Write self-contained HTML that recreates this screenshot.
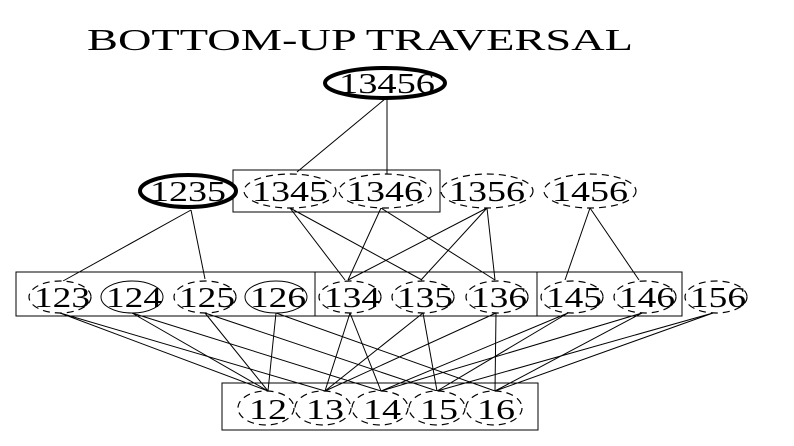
<!DOCTYPE html>
<html><head><style>body{margin:0;background:#fff}</style></head><body>
<svg width="794" height="441" xmlns="http://www.w3.org/2000/svg" font-family="Liberation Serif, serif">
<text x="87" y="50" font-size="30.5" textLength="546" lengthAdjust="spacingAndGlyphs">BOTTOM-UP TRAVERSAL</text>
<g stroke="#000" stroke-width="1" fill="none">
<rect x="233" y="170" width="207" height="42"/>
<rect x="16" y="272" width="299" height="44"/>
<rect x="315" y="272" width="222" height="44"/>
<rect x="537" y="272" width="145" height="44"/>
<rect x="222" y="383" width="316" height="47"/>
<line x1="385" y1="99" x2="297" y2="172"/>
<line x1="387" y1="99" x2="387" y2="174"/>
<line x1="191" y1="210" x2="63" y2="281"/>
<line x1="191" y1="210" x2="205" y2="279"/>
<line x1="290" y1="208" x2="345" y2="280"/>
<line x1="290" y1="208" x2="422" y2="280"/>
<line x1="381" y1="208" x2="348" y2="280"/>
<line x1="381" y1="208" x2="495" y2="280"/>
<line x1="487" y1="208" x2="348" y2="280"/>
<line x1="487" y1="208" x2="421" y2="280"/>
<line x1="487" y1="208" x2="495" y2="280"/>
<line x1="590" y1="208" x2="565" y2="280"/>
<line x1="590" y1="208" x2="639" y2="280"/>
<line x1="60" y1="313" x2="268" y2="391"/><line x1="60" y1="313" x2="325" y2="391"/>
<line x1="132" y1="313" x2="268" y2="391"/><line x1="132" y1="313" x2="381" y2="391"/>
<line x1="205" y1="313" x2="268" y2="391"/><line x1="205" y1="313" x2="437" y2="391"/>
<line x1="276" y1="313" x2="268" y2="391"/><line x1="276" y1="313" x2="495" y2="391"/>
<line x1="350" y1="313" x2="325" y2="391"/><line x1="350" y1="313" x2="381" y2="391"/>
<line x1="423" y1="313" x2="325" y2="391"/><line x1="423" y1="313" x2="437" y2="391"/>
<line x1="496" y1="313" x2="325" y2="391"/><line x1="496" y1="313" x2="495" y2="391"/>
<line x1="568" y1="313" x2="381" y2="391"/><line x1="568" y1="313" x2="437" y2="391"/>
<line x1="642" y1="313" x2="381" y2="391"/><line x1="642" y1="313" x2="495" y2="391"/>
<line x1="713" y1="313" x2="437" y2="391"/><line x1="713" y1="313" x2="495" y2="391"/>
</g>
<g fill="#fff" stroke="#000">
<ellipse cx="385" cy="83" rx="60" ry="15" stroke-width="4"/>
<ellipse cx="188" cy="191" rx="48" ry="16" stroke-width="4"/>
<g stroke-dasharray="7,5" stroke-width="1.2">
<ellipse cx="290" cy="191" rx="46" ry="17"/>
<ellipse cx="385" cy="191" rx="46" ry="17"/>
<ellipse cx="487" cy="191" rx="46" ry="17"/>
<ellipse cx="590" cy="191" rx="46" ry="17"/>
<ellipse cx="60" cy="297" rx="31" ry="16"/>
<ellipse cx="205" cy="297" rx="31" ry="16"/>
<ellipse cx="350" cy="297" rx="31" ry="16"/>
<ellipse cx="423" cy="297" rx="31" ry="16"/>
<ellipse cx="497" cy="297" rx="31" ry="16"/>
<ellipse cx="572" cy="297" rx="31" ry="16"/>
<ellipse cx="645" cy="297" rx="31" ry="16"/>
<ellipse cx="716" cy="297" rx="31" ry="16"/>
<ellipse cx="266" cy="408" rx="28" ry="17"/>
<ellipse cx="323" cy="408" rx="28" ry="17"/>
<ellipse cx="380" cy="408" rx="28" ry="17"/>
<ellipse cx="437" cy="408" rx="28" ry="17"/>
<ellipse cx="494" cy="408" rx="28" ry="17"/>
</g>
<ellipse cx="132" cy="297" rx="31" ry="16" stroke-width="1"/>
<ellipse cx="276" cy="297" rx="31" ry="16" stroke-width="1"/>
</g>
<g font-size="28" text-anchor="middle" lengthAdjust="spacingAndGlyphs">
<text x="387" y="93" textLength="96" lengthAdjust="spacingAndGlyphs">13456</text>
<text x="188" y="201" textLength="76" lengthAdjust="spacingAndGlyphs">1235</text>
<text x="290" y="201" textLength="76" lengthAdjust="spacingAndGlyphs">1345</text>
<text x="385" y="201" textLength="76" lengthAdjust="spacingAndGlyphs">1346</text>
<text x="487" y="201" textLength="76" lengthAdjust="spacingAndGlyphs">1356</text>
<text x="590" y="201" textLength="76" lengthAdjust="spacingAndGlyphs">1456</text>
<text x="62" y="307" textLength="56" lengthAdjust="spacingAndGlyphs">123</text>
<text x="134" y="307" textLength="56" lengthAdjust="spacingAndGlyphs">124</text>
<text x="207" y="307" textLength="56" lengthAdjust="spacingAndGlyphs">125</text>
<text x="278" y="307" textLength="56" lengthAdjust="spacingAndGlyphs">126</text>
<text x="352" y="307" textLength="56" lengthAdjust="spacingAndGlyphs">134</text>
<text x="425" y="307" textLength="56" lengthAdjust="spacingAndGlyphs">135</text>
<text x="499" y="307" textLength="56" lengthAdjust="spacingAndGlyphs">136</text>
<text x="574" y="307" textLength="56" lengthAdjust="spacingAndGlyphs">145</text>
<text x="647" y="307" textLength="56" lengthAdjust="spacingAndGlyphs">146</text>
<text x="718" y="307" textLength="56" lengthAdjust="spacingAndGlyphs">156</text>
<text x="268" y="419" textLength="38" lengthAdjust="spacingAndGlyphs">12</text>
<text x="325" y="419" textLength="38" lengthAdjust="spacingAndGlyphs">13</text>
<text x="382" y="419" textLength="38" lengthAdjust="spacingAndGlyphs">14</text>
<text x="439" y="419" textLength="38" lengthAdjust="spacingAndGlyphs">15</text>
<text x="496" y="419" textLength="38" lengthAdjust="spacingAndGlyphs">16</text>
</g>
</svg>
</body></html>
